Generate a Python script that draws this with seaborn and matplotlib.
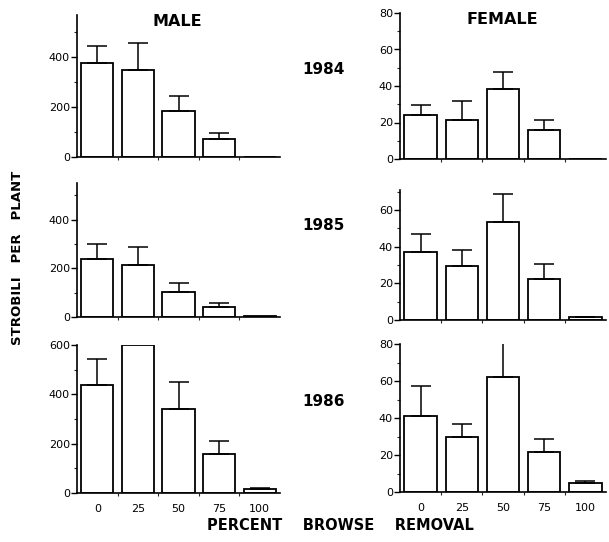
import numpy as np
import pandas as pd
import matplotlib
matplotlib.use("Agg")
import matplotlib.pyplot as plt
import seaborn as sns

categories = ["0", "25", "50", "75", "100"]

male_1984 = [377, 349, 185, 71, 0]
male_1984_se = [67, 108, 59, 24, 0]
male_1985 = [237, 215, 103, 42, 3]
male_1985_se = [63, 71, 38, 16, 0]
male_1986 = [436, 599, 340, 160, 17]
male_1986_se = [107, 0, 110, 50, 3]

female_1984 = [23.9, 21.5, 38.4, 15.7, 0]
female_1984_se = [5.5, 10.4, 9.4, 5.5, 0]
female_1985 = [37.1, 29.5, 53.6, 22.5, 1.5]
female_1985_se = [9.8, 8.5, 15.4, 7.9, 0.4]
female_1986 = [41.2, 30.0, 62.1, 21.8, 4.7]
female_1986_se = [16.2, 6.8, 19.0, 6.9, 1.4]

years = ["1984", "1985", "1986"]

sns.set_style("ticks")
plt.rcParams["font.family"] = ["DejaVu Sans"]

W, H = 609, 542
fig = plt.figure(figsize=(W / 100, H / 100), dpi=100)


def add_ax(left, right, y0, ytop):
    return fig.add_axes([left / W, 1 - y0 / H, (right - left) / W, (y0 - ytop) / H])


panels = [
    # (values, se, left, right, y0, ytop, ylim, majors, minors, row)
    (male_1984, male_1984_se, 77, 280, 157, 15, 570, [0, 200, 400], [100, 300, 500], 0),
    (female_1984, female_1984_se, 400, 606, 159, 13, 80, [0, 20, 40, 60, 80], [10, 30, 50, 70], 0),
    (male_1985, male_1985_se, 77, 280, 317, 183, 550, [0, 200, 400], [100, 300, 500], 1),
    (female_1985, female_1985_se, 400, 606, 320, 190, 71, [0, 20, 40, 60], [10, 30, 50, 70], 1),
    (male_1986, male_1986_se, 77, 280, 493, 345, 600, [0, 200, 400, 600], [100, 300, 500], 2),
    (female_1986, female_1986_se, 400, 606, 492, 344, 80, [0, 20, 40, 60, 80], [10, 30, 50, 70], 2),
]

for vals, se, left, right, y0, ytop, ylim, majors, minors, row in panels:
    ax = add_ax(left, right, y0, ytop)
    df = pd.DataFrame({"removal": categories, "value": vals})
    sns.barplot(data=df, x="removal", y="value", order=categories, color="white",
                edgecolor="black", linewidth=1.3, width=0.79, errorbar=None, ax=ax,
                saturation=1)
    centers = [p.get_x() + p.get_width() / 2 for p in ax.patches]
    for c, v, e in zip(centers, vals, se):
        if e > 0:
            ax.errorbar([c], [v], yerr=[[0], [e]], fmt="none", ecolor="black",
                        elinewidth=1.1, capsize=7, capthick=1.1, zorder=1)
    ax.set_xlim(-0.5, 4.5)
    ax.set_ylim(0, ylim)
    ax.set_yticks(majors)
    ax.set_yticks(minors, minor=True)
    ax.set_xticks(range(5))
    ax.set_xticks([0.5, 1.5, 2.5, 3.5], minor=True)
    ax.set_xlabel("")
    ax.set_ylabel("")
    for s in ["top", "right"]:
        ax.spines[s].set_visible(False)
    for s in ["left", "bottom"]:
        ax.spines[s].set_linewidth(1.2)
        ax.spines[s].set_color("black")
    ax.tick_params(axis="y", which="major", length=4, width=1, pad=1,
                   labelsize=8, colors="black")
    ax.tick_params(axis="y", which="minor", length=2, width=0.8, direction="out")
    ax.tick_params(axis="x", which="major", length=0, pad=8, labelsize=8,
                   colors="black")
    ax.tick_params(axis="x", which="minor", length=2.5, width=0.8, direction="out")
    if row < 2:
        ax.set_xticklabels([])
    ax.set_facecolor("white")

fig.text(177 / W, 1 - 21 / H, "MALE", ha="center", va="center",
         fontsize=11.5, fontweight="bold", color="black")
fig.text(502 / W, 1 - 19 / H, "FEMALE", ha="center", va="center",
         fontsize=11.5, fontweight="bold", color="black")
for yr, ypix in zip(years, [70, 226, 402]):
    fig.text(324 / W, 1 - ypix / H, yr, ha="center", va="center",
             fontsize=11, fontweight="bold", color="black")
fig.text(18 / W, 1 - 258 / H, "STROBILI   PER   PLANT", ha="center", va="center",
         rotation=90, fontsize=9.5, fontweight="bold", color="black")
fig.text(340 / W, 1 - 526 / H, "PERCENT    BROWSE    REMOVAL", ha="center",
         va="center", fontsize=10.5, fontweight="bold", color="black")

fig.savefig("out.png", dpi=100, facecolor="white")
